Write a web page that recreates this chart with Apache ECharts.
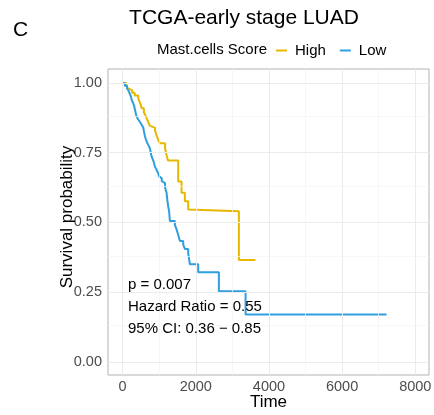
<!DOCTYPE html>
<html>
<head>
<meta charset="utf-8">
<script src="https://cdn.jsdelivr.net/npm/echarts@6/dist/echarts.min.js"></script>
<style>
html,body{margin:0;padding:0;background:#fff;}
#c{width:434px;height:415px;}
</style>
</head>
<body>
<div id="c"></div>
<script>
// ---- data ----
const seriesNames = ['High', 'Low'];
const highSteps = [
  [0,1.0],[100,0.99],[150,0.98],[200,0.974],[260,0.965],[330,0.955],[427,0.944],[470,0.93],[500,0.92],
  [519,0.909],[580,0.895],[620,0.885],[656,0.873],[700,0.86],[746,0.846],[800,0.84],[883,0.831],
  [920,0.815],[973,0.796],[1019,0.784],[1160,0.766],[1200,0.742],[1240,0.722],[1519,0.647],
  [1610,0.606],[1700,0.576],[1792,0.546],[1830,0.54],[3178,0.365],[3630,0.365]
];
const lowSteps = [
  [0,1.0],[60,0.99],[120,0.98],[170,0.97],[200,0.96],[230,0.95],[245,0.94],[280,0.93],[310,0.92],
  [336,0.905],[360,0.89],[382,0.88],[420,0.87],[473,0.86],[520,0.85],[563,0.84],[585,0.825],
  [609,0.81],[630,0.80],[656,0.79],[700,0.778],[746,0.766],[770,0.75],[792,0.736],[830,0.724],
  [860,0.712],[883,0.70],[930,0.688],[973,0.676],[1000,0.665],[1019,0.658],[1070,0.648],[1109,0.641],
  [1160,0.625],[1202,0.606],[1220,0.582],[1246,0.558],[1270,0.54],[1292,0.505],[1429,0.49],
  [1475,0.475],[1520,0.455],[1566,0.433],[1656,0.42],[1702,0.405],[1792,0.39],[1839,0.35],
  [2066,0.321],[2631,0.253],[3361,0.17],[7213,0.17]
];
const xTicks = [0, 2000, 4000, 6000, 8000];
const xMinor = [1000, 3000, 5000, 7000];
const yTicks = [0, 0.25, 0.5, 0.75, 1.0];
const yMinor = [0.125, 0.375, 0.625, 0.875];
const statLines = ['p = 0.007', 'Hazard Ratio = 0.55', '95% CI: 0.36 \u2212 0.85'];
const titleText = 'TCGA-early stage LUAD';
const panelLabel = 'C';
const legendTitle = 'Mast.cells Score';
const xTitle = 'Time';
const yTitle = 'Survival probability';

const FONT = '"Liberation Sans", Arial, Helvetica, sans-serif';
const colors = ['#E7B800', '#2E9FDF'];

const gridMarks = [];
xTicks.forEach(v => gridMarks.push({xAxis: v, lineStyle: {color: '#EBEBEB', width: 1, type: 'solid'}}));
xMinor.forEach(v => gridMarks.push({xAxis: v, lineStyle: {color: '#F4F4F4', width: 0.7, type: 'solid'}}));
yTicks.forEach(v => gridMarks.push({yAxis: v, lineStyle: {color: '#EBEBEB', width: 1, type: 'solid'}}));
yMinor.forEach(v => gridMarks.push({yAxis: v, lineStyle: {color: '#F4F4F4', width: 0.7, type: 'solid'}}));

const chart = echarts.init(document.getElementById('c'), null, {renderer: 'canvas'});
const option = {
  animation: false,
  backgroundColor: '#fff',
  textStyle: {fontFamily: FONT},
  grid: {left: 108, right: 5, top: 69, bottom: 40, show: true, borderColor: '#B3B3B3', borderWidth: 1,
         backgroundColor: 'transparent', containLabel: false, outerBoundsMode: 'none'},
  xAxis: {
    type: 'value', min: -400, max: 8375,
    axisLine: {show: false},
    splitLine: {show: false},
    axisTick: {show: true, length: 3, lineStyle: {color: '#333333'}, customValues: xTicks},
    axisLabel: {color: '#4D4D4D', fontSize: 14.5, fontFamily: FONT, margin: 4, customValues: xTicks, formatter: v => String(v)}
  },
  yAxis: {
    type: 'value', min: -0.047, max: 1.05,
    axisLine: {show: false},
    splitLine: {show: false},
    axisTick: {show: true, length: 3, lineStyle: {color: '#333333'}, customValues: yTicks},
    axisLabel: {color: '#4D4D4D', fontSize: 14.5, fontFamily: FONT, margin: 6, customValues: yTicks, formatter: v => v.toFixed(2)}
  },
  legend: {
    data: seriesNames, left: 276, top: 43, padding: 0, icon: 'rect', itemWidth: 11, itemHeight: 2,
    itemGap: 14, textStyle: {fontSize: 15, color: '#000', fontFamily: FONT, padding: [0, 0, 0, 3]},
    selectedMode: false
  },
  graphic: [
    {type: 'text', left: 13, top: 20, z: 100, style: {text: panelLabel, fontSize: 21, fill: '#000', fontFamily: FONT}},
    {type: 'text', x: 244, y: 18, z: 100, style: {text: titleText, fontSize: 21, fill: '#000', fontFamily: FONT, align: 'center', verticalAlign: 'middle'}},
    {type: 'text', x: 267, y: 50, z: 100, style: {text: legendTitle, fontSize: 15, fill: '#000', fontFamily: FONT, align: 'right', verticalAlign: 'middle'}},
    {type: 'text', x: 128, y: 285, z: 100, style: {text: statLines[0], fontSize: 15, fill: '#000', fontFamily: FONT, verticalAlign: 'middle'}},
    {type: 'text', x: 128, y: 307, z: 100, style: {text: statLines[1], fontSize: 15, fill: '#000', fontFamily: FONT, verticalAlign: 'middle'}},
    {type: 'text', x: 128, y: 329, z: 100, style: {text: statLines[2], fontSize: 15, fill: '#000', fontFamily: FONT, verticalAlign: 'middle'}},
    {type: 'text', x: 268.5, y: 402, z: 100, style: {text: xTitle, fontSize: 17, fill: '#000', fontFamily: FONT, align: 'center', verticalAlign: 'middle'}},
    {type: 'text', x: 67, y: 217, rotation: Math.PI / 2, z: 100, style: {text: yTitle, fontSize: 17, fill: '#000', fontFamily: FONT, align: 'center', verticalAlign: 'middle'}}
  ],
  series: [
    {
      name: '_grid', type: 'line', data: [], silent: true, z: 1,
      markLine: {silent: true, symbol: 'none', label: {show: false}, animation: false, data: gridMarks}
    },
    {
      name: seriesNames[0], type: 'line', step: 'end', data: highSteps, showSymbol: false, z: 3,
      itemStyle: {color: colors[0]}, lineStyle: {color: colors[0], width: 2}
    },
    {
      name: seriesNames[1], type: 'line', step: 'end', data: lowSteps, showSymbol: false, z: 3,
      itemStyle: {color: colors[1]}, lineStyle: {color: colors[1], width: 2}
    }
  ]
};
chart.setOption(option);
</script>
</body>
</html>
